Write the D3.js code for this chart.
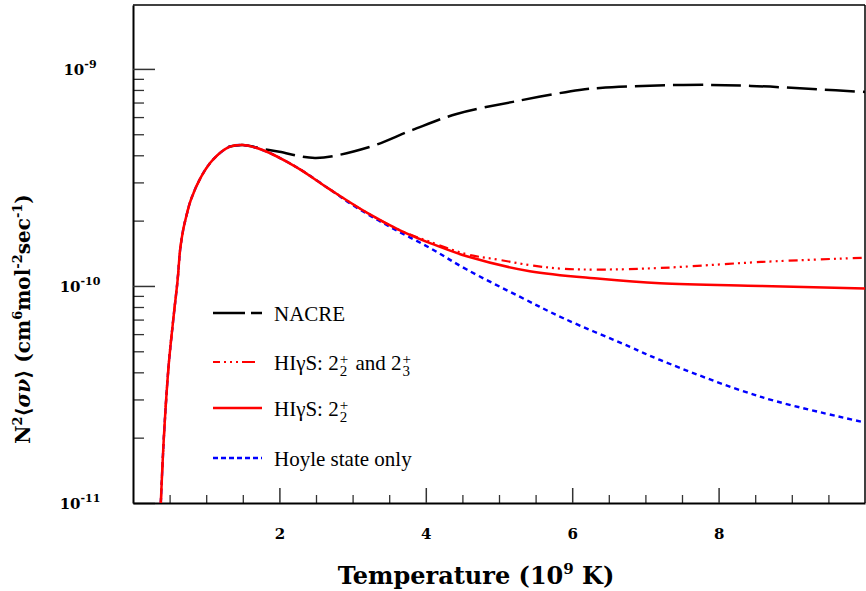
<!DOCTYPE html>
<html lang="en">
<head>
<meta charset="UTF-8">
<title>Triple alpha rate</title>
<script src="https://d3js.org/d3.v7.min.js"></script>
<style>
  * { margin: 0; padding: 0; }
  body { background: #fff; width: 866px; height: 591px; overflow: hidden; }
  svg text { font-family: "DejaVu Serif", "Liberation Serif", serif; fill: #000; white-space: pre; }
  svg text.leg { font-family: "Liberation Serif", "DejaVu Serif", serif; font-size: 21px; }
  .tick-lbl { font-weight: bold; font-size: 15px; }
</style>
</head>
<body>
<svg id="chart" width="866" height="591"></svg>
<script>
// --- data (T in 10^9 K, rate in cm^6 mol^-2 s^-1) ---
const tSolid   = [0.38, 0.425, 0.49, 0.56, 0.61, 0.644, 0.685, 0.726, 0.79, 0.93, 1.09, 1.315, 1.5, 1.77, 2.23, 2.7, 3.2, 3.64, 4.05, 4.56, 5.42, 6.38, 7.2, 8.58, 10];
const vSolid   = [1.0e-11, 2.1e-11, 4.42e-11, 7.51e-11, 1.07e-10, 1.47e-10, 1.81e-10, 2.08e-10, 2.49e-10, 3.18e-10, 3.81e-10, 4.37e-10, 4.46e-10, 4.23e-10, 3.53e-10, 2.77e-10, 2.17e-10, 1.81e-10, 1.58e-10, 1.37e-10, 1.17e-10, 1.08e-10, 1.03e-10, 1.0e-10, 9.73e-11];

const tBoth    = [0.38, 0.425, 0.49, 0.56, 0.61, 0.644, 0.685, 0.726, 0.79, 0.93, 1.09, 1.315, 1.5, 1.77, 2.23, 2.7, 3.2, 3.64, 4.05, 4.56, 5.0, 5.47, 5.88, 6.38, 7.2, 8.58, 10];
const vBoth    = [1.0e-11, 2.1e-11, 4.42e-11, 7.51e-11, 1.07e-10, 1.47e-10, 1.81e-10, 2.08e-10, 2.49e-10, 3.18e-10, 3.81e-10, 4.37e-10, 4.46e-10, 4.23e-10, 3.53e-10, 2.77e-10, 2.17e-10, 1.81e-10, 1.60e-10, 1.40e-10, 1.32e-10, 1.24e-10, 1.20e-10, 1.19e-10, 1.21e-10, 1.29e-10, 1.35e-10];

const tHoyle   = [0.38, 0.425, 0.49, 0.56, 0.61, 0.644, 0.685, 0.726, 0.79, 0.93, 1.09, 1.315, 1.5, 1.77, 2.23, 2.7, 3.0, 3.5, 4.05, 4.56, 5.29, 5.88, 6.79, 7.2, 8.58, 10];
const vHoyle   = [1.0e-11, 2.1e-11, 4.42e-11, 7.51e-11, 1.07e-10, 1.47e-10, 1.81e-10, 2.08e-10, 2.49e-10, 3.18e-10, 3.81e-10, 4.37e-10, 4.46e-10, 4.23e-10, 3.53e-10, 2.77e-10, 2.36e-10, 1.88e-10, 1.50e-10, 1.19e-10, 8.9e-11, 7.1e-11, 5.24e-11, 4.56e-11, 3.08e-11, 2.35e-11];

const tNacre   = [1.3, 1.5, 1.77, 2.0, 2.5, 3.23, 3.82, 4.42, 5.19, 6.1, 6.38, 7.52, 8.44, 9.36, 10];
const vNacre   = [4.37e-10, 4.46e-10, 4.28e-10, 4.15e-10, 3.89e-10, 4.37e-10, 5.24e-10, 6.20e-10, 7.05e-10, 8.0e-10, 8.17e-10, 8.44e-10, 8.35e-10, 8.05e-10, 7.83e-10];

const xMajor = [2, 4, 6, 8];
const xMinor = d3.range(1, 20).map(i => i * 0.5).filter(v => v % 2 !== 0);
const yMajorExp = [-9, -10, -11];

const svg = d3.select("#chart");
const L = 133, R = 865, T = 5, B = 503;

const x = d3.scaleLinear().domain([0, 10]).range([L, R]);
const y = d3.scaleLog().domain([1e-11, 1.97e-9]).range([B, T]);

svg.append("defs").append("clipPath").attr("id", "clip")
  .append("rect").attr("x", L).attr("y", T).attr("width", R - L).attr("height", B - T);

// frame (top and right)
svg.append("line").attr("x1", L).attr("x2", R).attr("y1", T).attr("y2", T)
  .attr("stroke", "#000").attr("stroke-width", 1.5);
svg.append("line").attr("x1", R).attr("x2", R).attr("y1", T).attr("y2", B)
  .attr("stroke", "#000").attr("stroke-width", 1.5);

// y axis: major + minor ticks pointing inward
const yMinor = [];
[-11, -10, -9].forEach(e => { for (let k = 2; k <= 9; k++) { const v = k * Math.pow(10, e); if (v <= 1.97e-9) yMinor.push(v); } });

svg.append("g").attr("transform", `translate(${L},0)`)
  .call(d3.axisLeft(y).tickValues(yMinor).tickSize(-11).tickSizeOuter(0).tickFormat(""))
  .call(g => g.select(".domain").remove())
  .call(g => g.selectAll(".tick line").attr("stroke", "#333").attr("stroke-width", 1.3));
svg.append("g").attr("transform", `translate(${L},0)`)
  .call(d3.axisLeft(y).tickValues(yMajorExp.map(e => Math.pow(10, e))).tickSize(-22).tickSizeOuter(0).tickFormat(""))
  .call(g => g.select(".domain").attr("stroke-width", 2))
  .call(g => g.selectAll(".tick line").attr("stroke", "#333").attr("stroke-width", 1.5));

// y tick labels 10^n
yMajorExp.forEach(e => {
  const t = svg.append("text").attr("class", "tick-lbl")
    .attr("x", 80).attr("y", y(Math.pow(10, e)) + 6).attr("text-anchor", "middle");
  t.append("tspan").text("10");
  t.append("tspan").attr("dy", -7).attr("font-size", 11).text(String(e));
});

// x axis
svg.append("g").attr("transform", `translate(0,${B})`)
  .call(d3.axisBottom(x).tickValues(xMinor).tickSize(-8).tickSizeOuter(0).tickFormat(""))
  .call(g => g.select(".domain").remove())
  .call(g => g.selectAll(".tick line").attr("stroke", "#333").attr("stroke-width", 1.3));
svg.append("g").attr("transform", `translate(0,${B})`)
  .call(d3.axisBottom(x).tickValues(xMajor).tickSize(-15).tickSizeOuter(0).tickPadding(25).tickFormat(d3.format("d")))
  .call(g => g.select(".domain").attr("stroke-width", 2))
  .call(g => g.selectAll(".tick line").attr("stroke", "#333").attr("stroke-width", 1.5))
  .call(g => g.selectAll(".tick text").attr("class", "tick-lbl").attr("fill", "#000"));

// axis titles
const xt = svg.append("text").attr("x", 476).attr("y", 584).attr("text-anchor", "middle")
  .attr("font-weight", "bold").attr("font-size", 24);
xt.append("tspan").text("Temperature (10");
xt.append("tspan").attr("dy", -10).attr("font-size", 15).text("9");
xt.append("tspan").attr("dy", 10).text(" K)");

const yt = svg.append("text").attr("transform", "translate(30,319) rotate(-90)")
  .attr("text-anchor", "middle").attr("font-weight", "bold").attr("font-size", 20);
yt.append("tspan").text("N");
yt.append("tspan").attr("dy", -8).attr("font-size", 13).text("2");
yt.append("tspan").attr("dy", 8).text("\u27E8");
yt.append("tspan").attr("font-style", "italic").text("\u03C3\u03BD");
yt.append("tspan").text("\u27E9 (cm");
yt.append("tspan").attr("dy", -8).attr("font-size", 13).text("6");
yt.append("tspan").attr("dy", 8).text("mol");
yt.append("tspan").attr("dy", -8).attr("font-size", 13).text("-2");
yt.append("tspan").attr("dy", 8).text("sec");
yt.append("tspan").attr("dy", -8).attr("font-size", 13).text("-1");
yt.append("tspan").attr("dy", 8).text(")");

// curves
const line = d3.line().x(d => x(d[0])).y(d => y(d[1])).curve(d3.curveCatmullRom.alpha(0.5));
const series = [
  { t: tNacre, v: vNacre, color: "#000", dash: "30,8", w: 2.5 },
  { t: tHoyle, v: vHoyle, color: "#0000ff", dash: "5,4", w: 2.4 },
  { t: tBoth,  v: vBoth,  color: "#ff0000", dash: "9,4,2,4,2,4,2,5", w: 2.2 },
  { t: tSolid, v: vSolid, color: "#ff0000", dash: null, w: 2.5 }
];
const plot = svg.append("g").attr("clip-path", "url(#clip)");
series.forEach(s => {
  plot.append("path").datum(d3.zip(s.t, s.v))
    .attr("d", line).attr("fill", "none")
    .attr("stroke", s.color).attr("stroke-width", s.w)
    .attr("stroke-dasharray", s.dash);
});

// legend
const legend = [
  { y: 313, color: "#000", dash: "32,6", w: 2.5, label: [["NACRE"]] },
  { y: 362, color: "#ff0000", dash: "7,4,2,4,2,4,2,4,13", w: 2.2, label: [["HI\u03B3S: 2", "+", "2"], [" and 2", "+", "3"]] },
  { y: 408, color: "#ff0000", dash: null, w: 2.5, label: [["HI\u03B3S: 2", "+", "2"]] },
  { y: 458, color: "#0000ff", dash: "5,3", w: 2.4, label: [["Hoyle state only"]] }
];
// width of a small glyph, used to stack super- and subscripts
const probe = svg.append("text").attr("class", "leg").style("font-size", "15px");
const wOf = s => { probe.text(s); return probe.node().getComputedTextLength(); };

legend.forEach(d => {
  svg.append("line").attr("x1", 213).attr("x2", 262).attr("y1", d.y).attr("y2", d.y)
    .attr("stroke", d.color).attr("stroke-width", d.w).attr("stroke-dasharray", d.dash);
  const t = svg.append("text").attr("class", "leg").attr("x", 274).attr("y", d.y + 8);
  let carryDx = 0, carryDy = 0;
  d.label.forEach(part => {
    t.append("tspan").attr("dx", carryDx).attr("dy", carryDy).text(part[0]);
    carryDx = 0; carryDy = 0;
    if (part.length > 1) {
      const w1 = wOf(part[1]), w2 = wOf(part[2]);
      t.append("tspan").attr("dx", 1).attr("dy", -6).style("font-size", "15px").text(part[1]);
      t.append("tspan").attr("dx", -w1).attr("dy", 12).style("font-size", "15px").text(part[2]);
      carryDx = Math.max(0, w1 - w2) + 2;
      carryDy = -6;
    }
  });
});
probe.remove();
</script>
</body>
</html>
